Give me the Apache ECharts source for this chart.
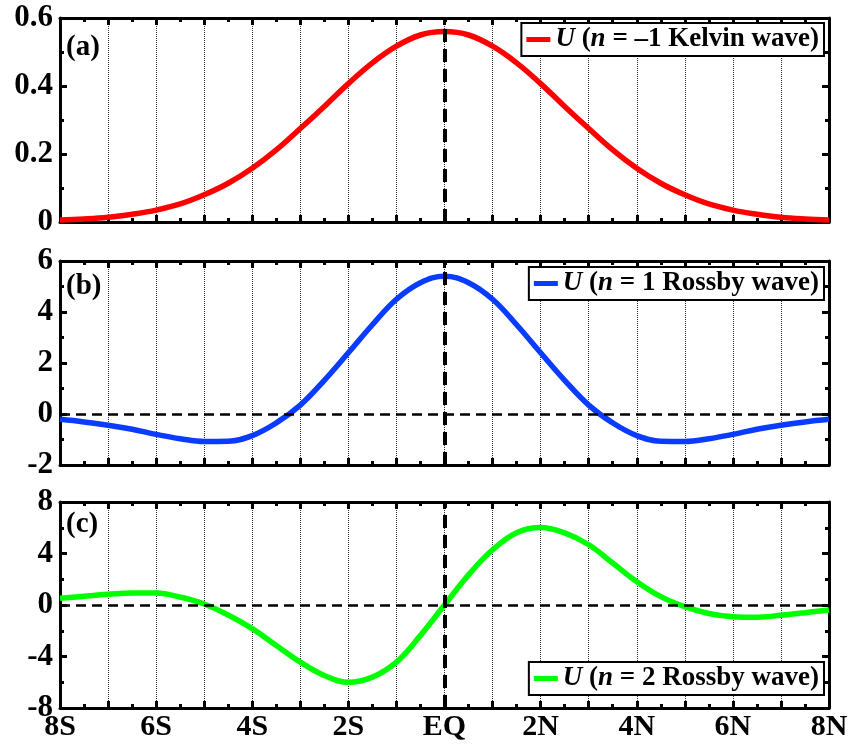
<!DOCTYPE html>
<html>
<head>
<meta charset="utf-8">
<script src="https://cdn.jsdelivr.net/npm/echarts@6/dist/echarts.min.js"></script>
<style>
html,body{margin:0;padding:0;background:#fff;}
#chart{width:854px;height:746px;}
</style>
</head>
<body>
<div id="chart"></div>
<script>
// ---- data ----
const lat = [-8,-7.5,-7,-6.5,-6,-5.5,-5,-4.5,-4,-3.5,-3,-2.5,-2,-1.5,-1,-0.5,0,0.5,1,1.5,2,2.5,3,3.5,4,4.5,5,5.5,6,6.5,7,7.5,8];
const kelvinU = [0.006,0.009,0.014,0.023,0.035,0.053,0.08,0.114,0.158,0.212,0.275,0.34,0.407,0.468,0.517,0.55,0.56,0.55,0.517,0.468,0.407,0.34,0.275,0.212,0.158,0.114,0.08,0.053,0.035,0.023,0.014,0.009,0.006];
const rossby1U = [-0.21,-0.31,-0.44,-0.6,-0.8,-0.97,-1.08,-1.07,-0.85,-0.35,0.35,1.32,2.4,3.5,4.5,5.15,5.4,5.15,4.5,3.5,2.4,1.32,0.35,-0.35,-0.85,-1.07,-1.08,-0.97,-0.8,-0.6,-0.44,-0.31,-0.21];
const rossby2U = [0.52,0.68,0.83,0.94,0.93,0.62,0.08,-0.78,-1.84,-3.14,-4.44,-5.48,-6.0,-5.6,-4.44,-2.36,0,2.34,4.29,5.62,6.02,5.6,4.68,3.26,1.82,0.65,-0.13,-0.66,-0.91,-0.95,-0.8,-0.6,-0.39];
const xTickValues = [-8,-6,-4,-2,0,2,4,6,8];
const xTickNames = ['8S','6S','4S','2S','EQ','2N','4N','6N','8N'];
const panelLabels = ['(a)','(b)','(c)'];
const seriesNames = ['kelvin','rossby1','rossby2'];
const legendTexts = ['{i|U} ({i|n} = \u20131 Kelvin wave)','{i|U} ({i|n} = 1 Rossby wave)','{i|U} ({i|n} = 2 Rossby wave)'];
const yRanges = [[0,0.6,0.2],[-2,6,2],[-8,8,4]];

// ---- layout / style ----
const FONT = 'Liberation Serif';
const colors = ['#ff0000','#0a3cff','#00ff00'];
const grids = [
  {left:60, right:25, top:18, height:204},
  {left:60, right:25, top:261, height:204},
  {left:60, right:25, top:502, height:206}
];
const values = [kelvinU, rossby1U, rossby2U];

const xAxis = [], yAxis = [], series = [], title = [], legend = [];
const tickStyle = {show:true, inside:true, length:7, lineStyle:{color:'#000', width:3}};
const minorStyle = {show:true, splitNumber:2, length:4, lineStyle:{color:'#000', width:3}};
const axisLine = {show:true, onZero:false, lineStyle:{color:'#000', width:3}};

for (let i = 0; i < 3; i++) {
  xAxis.push({
    type:'value', gridIndex:i, min:-8, max:8, interval:1, position:'bottom',
    axisLine, axisTick:tickStyle, minorTick:minorStyle,
    splitLine:{show:true, lineStyle:{type:'dotted', color:'#333', width:1}},
    axisLabel:{
      show: i === 2, margin:4, color:'#000', fontFamily:FONT, fontWeight:'bold', fontSize:30,
      formatter: v => { const k = xTickValues.indexOf(v); return k >= 0 ? xTickNames[k] : ''; }
    }
  });
  xAxis.push({
    type:'value', gridIndex:i, min:-8, max:8, interval:1, position:'top',
    axisLine, axisTick:tickStyle, minorTick:minorStyle,
    splitLine:{show:false}, axisLabel:{show:false}
  });
  const r = yRanges[i];
  yAxis.push({
    type:'value', gridIndex:i, min:r[0], max:r[1], interval:r[2], position:'left',
    axisLine, axisTick:tickStyle, minorTick:minorStyle, splitLine:{show:false},
    axisLabel:{margin:7, color:'#000', fontFamily:FONT, fontWeight:'bold', fontSize:31}
  });
  yAxis.push({
    type:'value', gridIndex:i, min:r[0], max:r[1], interval:r[2], position:'right',
    axisLine, axisTick:tickStyle, minorTick:minorStyle, splitLine:{show:false},
    axisLabel:{show:false}
  });
  const mlData = [{xAxis:0, lineStyle:{type:[13,7], width:4, color:'#000'}}];
  if (i > 0) mlData.push({yAxis:0, lineStyle:{type:[10,6], width:2.5, color:'#000'}});
  series.push({
    name: seriesNames[i], type:'line', xAxisIndex:2*i, yAxisIndex:2*i,
    data: lat.map((x, k) => [x, values[i][k]]),
    smooth:0.4, showSymbol:false, color:colors[i],
    lineStyle:{width:5.5, color:colors[i]},
    markLine:{silent:true, symbol:'none', label:{show:false}, z:10, animation:false, data:mlData}
  });
  const tops = [33, 272, 510];
  title.push({
    text: panelLabels[i], left:66, top:tops[i], padding:0,
    textStyle:{fontFamily:FONT, fontWeight:'bold', fontSize:29, color:'#000'}
  });
  const lg = {
    data:[seriesNames[i]], right:30, orient:'horizontal', selectedMode:false,
    icon:'rect', itemWidth:24, itemHeight:5,
    borderColor:'#000', borderWidth:2, backgroundColor:'#fff', padding:[3,5,3,5],
    formatter: () => legendTexts[i],
    textStyle:{color:'#000', fontFamily:FONT, fontWeight:'bold', fontSize:27,
      rich:{i:{fontFamily:FONT, fontWeight:'bold', fontStyle:'italic', fontSize:27, color:'#000'}}}
  };
  if (i === 0) lg.top = 23;
  if (i === 1) lg.top = 267;
  if (i === 2) lg.top = 662;
  legend.push(lg);
}

const chart = echarts.init(document.getElementById('chart'));
chart.setOption({
  animation:false,
  backgroundColor:'#fff',
  grid: grids, xAxis, yAxis, series, title, legend
});
</script>
</body>
</html>
